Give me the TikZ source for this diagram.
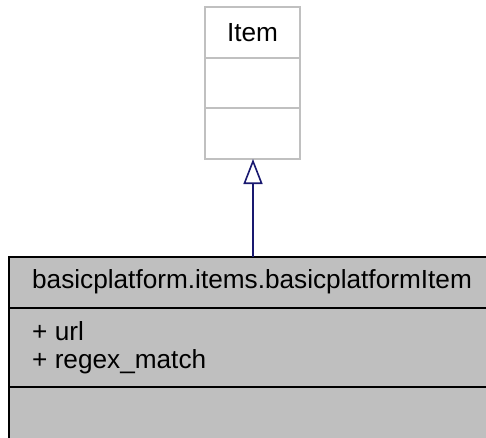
\documentclass[tikz,border=0pt]{standalone}
\usepackage{fontspec}
\setmainfont{Liberation Sans}
\usetikzlibrary{arrows.meta}
\definecolor{boxgray}{HTML}{BFBFBF}
\definecolor{lightedge}{HTML}{C0C0C0}
\definecolor{arrowblue}{HTML}{191970}
\tikzset{
  umltext/.style={inner sep=0pt, font=\fontsize{26.2}{28}\selectfont, anchor=base},
  lightbox/.style={draw=lightedge, line width=1.6pt, fill=white},
  darkbox/.style={draw=black, line width=1.6pt, fill=boxgray},
}
\begin{document}
\begin{tikzpicture}[x=1pt,y=-1pt]
\useasboundingbox (0,0) rectangle (486,437);
\clip (0,0) rectangle (486,437);
% Item class
\draw[lightbox] (205,7) rectangle (300,159);
\draw[lightedge, line width=1.6pt] (205,58) -- (300,58);
\draw[lightedge, line width=1.6pt] (205,108) -- (300,108);
\node[umltext] (itemtitle) at (252.5,41) {Item};
\coordinate (itembottom) at (253,159);
% derived class
\draw[darkbox] (9,257) rectangle (492,444);
\draw[black, line width=1.6pt] (9,308) -- (492,308);
\draw[black, line width=1.6pt] (9,387) -- (492,387);
\node[umltext] (dtitle) at (252,288) {basicplatform.items.basicplatformItem};
\node[umltext, anchor=base west] (attr1) at (32,340) {+ url};
\node[umltext, anchor=base west] (attr2) at (32,368) {+ regex\_match};
\coordinate (dtop) at (253,257);
% inheritance
\draw[arrowblue, line width=1.6pt, -{Triangle[open, length=25pt, width=19pt]}] (dtop) -- (itembottom);
\end{tikzpicture}
\end{document}
